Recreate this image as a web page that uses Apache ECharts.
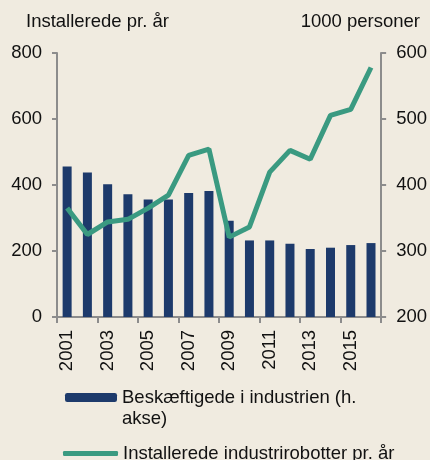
<!DOCTYPE html>
<html>
<head>
<meta charset="utf-8">
<script src="https://cdn.jsdelivr.net/npm/echarts@6/dist/echarts.min.js"></script>
<style>
html, body { margin: 0; padding: 0; background: #f0ebe0; }
#chart { width: 430px; height: 460px; }
</style>
</head>
<body>
<div id="chart"></div>
<script>
var years = ['2001', '2002', '2003', '2004', '2005', '2006', '2007', '2008',
    '2009', '2010', '2011', '2012', '2013', '2014', '2015', '2016'];
// 1000 personer (h. akse)
var employed = [428, 419, 401, 386, 378, 378, 388, 391, 346, 316, 316, 311, 303, 305, 309, 312];
// installerede pr. år (v. akse)
var robots = [330, 250, 288, 296, 330, 369, 490, 509, 242, 273, 439, 505, 478, 611, 629, 756];
var leftTicks = [0, 200, 400, 600, 800];
var rightTicks = [200, 300, 400, 500, 600];

var barName = 'Beskæftigede i industrien (h. akse)';
var lineName = 'Installerede industrirobotter pr. år';
var font = '"Liberation Sans", Arial, sans-serif';
var axisColor = '#8c8c8c';

function axisStyle() {
    return {
        axisLine: { show: true, lineStyle: { color: axisColor, width: 2 } },
        axisTick: { show: true, length: 5, lineStyle: { color: axisColor, width: 2 } },
        splitLine: { show: false }
    };
}

var chart = echarts.init(document.querySelector('#chart'));
chart.setOption({
    backgroundColor: '#f0ebe0',
    textStyle: { fontFamily: font },
    title: [{
        text: 'Installerede pr. år',
        left: 26, top: 12, padding: 0,
        textStyle: { fontSize: 18.5, fontWeight: 'normal', color: '#111', fontFamily: font }
    }, {
        text: '1000 personer',
        right: 10, top: 12, padding: 0,
        textStyle: { fontSize: 18.5, fontWeight: 'normal', color: '#111', fontFamily: font }
    }],
    // second line of the first legend label
    graphic: [{
        type: 'text',
        left: 122, top: 409,
        style: { text: 'akse)', fontSize: 18.5, fill: '#111', fontFamily: font }
    }],
    grid: { left: 57, right: 47, top: 53, bottom: 143 },
    legend: [{
        data: [barName],
        left: 65, top: 387, padding: 0,
        itemWidth: 52, itemHeight: 9,
        textStyle: { fontSize: 18.5, color: '#111', lineHeight: 21 },
        formatter: function () { return 'Beskæftigede i industrien (h.'; }
    }, {
        data: [lineName],
        left: 63, top: 444, padding: 0,
        itemWidth: 55, itemHeight: 5,
        icon: 'roundRect',
        textStyle: { fontSize: 18.5, color: '#111', lineHeight: 19 }
    }],
    xAxis: Object.assign({
        type: 'category',
        data: years,
        boundaryGap: true,
        axisLabel: { interval: 1, rotate: 90, fontSize: 18.5, color: '#111', margin: 13 }
    }, axisStyle(), {
        axisTick: { show: true, interval: 1, length: 6, lineStyle: { color: axisColor, width: 2 } }
    }),
    yAxis: [Object.assign({
        type: 'value',
        min: leftTicks[0], max: leftTicks[leftTicks.length - 1], interval: 200,
        axisLabel: { fontSize: 18.5, color: '#111', margin: 15 }
    }, axisStyle()), Object.assign({
        type: 'value',
        position: 'right',
        min: rightTicks[0], max: rightTicks[rightTicks.length - 1], interval: 100,
        axisLabel: { fontSize: 18.5, color: '#111', margin: 15 }
    }, axisStyle())],
    series: [{
        name: barName,
        type: 'bar',
        yAxisIndex: 1,
        barWidth: 9,
        itemStyle: { color: '#1d3a6b' },
        data: employed,
        z: 2
    }, {
        name: lineName,
        type: 'line',
        yAxisIndex: 0,
        symbol: 'none',
        lineStyle: { color: '#3a9a81', width: 5 },
        itemStyle: { color: '#3a9a81' },
        data: robots,
        z: 3
    }]
});
</script>
</body>
</html>
